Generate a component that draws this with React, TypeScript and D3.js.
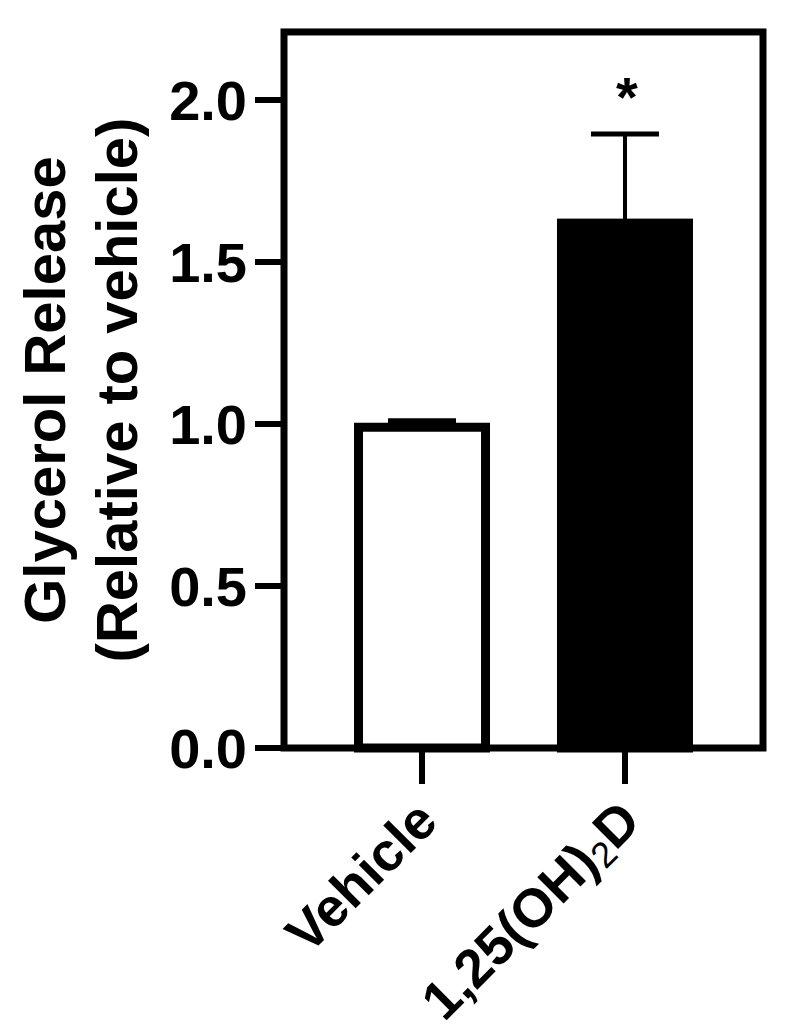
import React, { useEffect, useRef } from 'react'
import * as d3 from 'd3'

const categories = ['Vehicle', '1,25(OH)2D']
const means = [0.99, 1.62]
const errors = [0.02, 0.275]
const fills = ['#fff', '#000']
const yTicks = [0, 0.5, 1.0, 1.5, 2.0]
const yMax = 2.21
const titleLines = ['Glycerol Release', '(Relative to vehicle)']
const sigMarks = ['', '*']

const FONT = '"Liberation Sans", Arial, Helvetica, sans-serif'

export default function App() {
  const ref = useRef<SVGSVGElement>(null)

  useEffect(() => {
    const svg = d3.select(ref.current)
    svg.selectAll('*').remove()

    const left = 284, right = 763, bottom = 748

    const y = d3.scaleLinear().domain([0, 2]).range([bottom, 100])
    const x = d3.scalePoint<string>().domain(categories).range([left, right]).padding(0.68)
    const barW = 127

    svg.append('rect').attr('width', 789).attr('height', 1034).attr('fill', '#fff')

    // bars
    const g = svg.append('g')
    categories.forEach((c, i) => {
      const cx = x(c) as number
      // error bar (upper only)
      g.append('line')
        .attr('x1', cx).attr('x2', cx)
        .attr('y1', y(means[i])).attr('y2', y(means[i] + errors[i]))
        .attr('stroke', '#000').attr('stroke-width', 4)
      g.append('line')
        .attr('x1', cx - 34).attr('x2', cx + 34)
        .attr('y1', y(means[i] + errors[i])).attr('y2', y(means[i] + errors[i]))
        .attr('stroke', '#000').attr('stroke-width', 5)
      g.append('rect')
        .attr('x', cx - barW / 2).attr('width', barW)
        .attr('y', y(means[i])).attr('height', y(0) - y(means[i]))
        .attr('fill', fills[i])
        .attr('stroke', '#000').attr('stroke-width', 9)
      if (sigMarks[i]) {
        g.append('text')
          .attr('x', cx + 2).attr('y', y(means[i] + errors[i]) - 18)
          .attr('text-anchor', 'middle')
          .attr('font-family', FONT).attr('font-weight', 'bold').attr('font-size', 56)
          .text(sigMarks[i])
      }
    })

    // frame
    svg.append('rect')
      .attr('x', left).attr('y', y(yMax))
      .attr('width', right - left).attr('height', bottom - y(yMax))
      .attr('fill', 'none').attr('stroke', '#000').attr('stroke-width', 7)

    // y ticks
    const ya = svg.append('g')
    yTicks.forEach(t => {
      ya.append('line')
        .attr('x1', 255).attr('x2', left)
        .attr('y1', y(t)).attr('y2', y(t))
        .attr('stroke', '#000').attr('stroke-width', 6)
      ya.append('text')
        .attr('x', 247).attr('y', y(t)).attr('dy', '0.36em')
        .attr('text-anchor', 'end')
        .attr('font-family', FONT).attr('font-weight', 'bold').attr('font-size', 56)
        .text(d3.format('.1f')(t))
    })

    // x ticks + labels
    categories.forEach(c => {
      const cx = x(c) as number
      svg.append('line')
        .attr('x1', cx).attr('x2', cx).attr('y1', bottom).attr('y2', 784)
        .attr('stroke', '#000').attr('stroke-width', 6)
      const t = svg.append('text')
        .attr('transform', `translate(${cx + 18},${824}) rotate(-45)`)
        .attr('text-anchor', 'end')
        .attr('font-family', FONT).attr('font-weight', 'bold').attr('font-size', 54)
      const m = c.match(/^(.*\))(\d)(.*)$/)
      if (m) {
        t.append('tspan').text(m[1])
        t.append('tspan').attr('font-size', 36).attr('font-weight', 'normal').attr('dy', 6).text(m[2])
        t.append('tspan').attr('dy', -6).text(m[3])
      } else {
        t.text(c)
      }
    })

    // y title
    const title = svg.append('g')
    const baselines = [65, 137]
    titleLines.forEach((s, i) => {
      title.append('text')
        .attr('transform', `translate(${baselines[i]},390) rotate(-90)`)
        .attr('text-anchor', 'middle')
        .attr('font-family', FONT).attr('font-weight', 'bold').attr('font-size', 58)
        .text(s)
    })
  }, [])

  return (
    <svg ref={ref} width={789} height={1034}
      style={{ position: 'absolute', left: 0, top: 0, display: 'block' }} />
  )
}
